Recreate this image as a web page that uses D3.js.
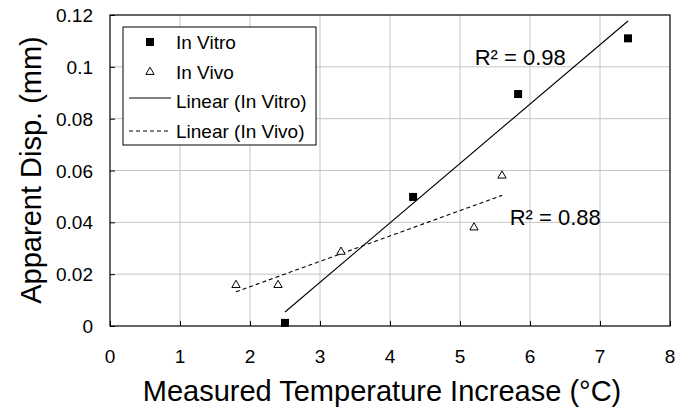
<!DOCTYPE html>
<html lang="en">
<head>
<meta charset="UTF-8"/>
<title>Apparent Disp. vs Temperature</title>
<script src="https://d3js.org/d3.v7.min.js"></script>
<style>
  body { margin: 0; background: #fff; }
  text { font-family: "Liberation Sans", Arial, sans-serif; fill: #000; }
</style>
</head>
<body>
<script>
// data
var vitroX = [2.5, 4.33, 5.83, 7.4];
var vitroY = [0.0012, 0.0498, 0.0895, 0.111];
var vivoX = [1.8, 2.4, 3.3, 5.2, 5.6];
var vivoY = [0.0158, 0.0158, 0.0286, 0.038, 0.058];

// trend line end points (as drawn)
var vitroFitX = [2.5, 7.4];
var vitroFitY = [0.0054, 0.1177];
var vivoFitX = [1.8, 5.6];
var vivoFitY = [0.0132, 0.0504];

var xTicks = [0, 1, 2, 3, 4, 5, 6, 7, 8];
var yTicks = [0, 0.02, 0.04, 0.06, 0.08, 0.1, 0.12];
var yTickLabels = ["0", "0.02", "0.04", "0.06", "0.08", "0.1", "0.12"];

var legendLabels = ["In Vitro", "In Vivo", "Linear (In Vitro)", "Linear (In Vivo)"];
var r2Labels = [
    { text: "R\u00B2 = 0.98", x: 5.21, y: 0.1007 },
    { text: "R\u00B2 = 0.88", x: 5.71, y: 0.039 }
];

var w = 678;
var h = 410;
var plotL = 110, plotT = 15, plotR = 670, plotB = 326;

var xScale = d3.scaleLinear().domain([0, 8]).range([plotL, plotR]);
var yScale = d3.scaleLinear().domain([0, 0.12]).range([plotB, plotT]);

var svg = d3.select("body").append("svg")
    .attr("width", w)
    .attr("height", h);

// grid
svg.append("g").selectAll("line")
    .data(xTicks.slice(1, -1))
    .enter().append("line")
    .attr("x1", function(d) { return xScale(d); })
    .attr("x2", function(d) { return xScale(d); })
    .attr("y1", plotT).attr("y2", plotB)
    .attr("stroke", "#c4c4c4").attr("stroke-width", 1);

svg.append("g").selectAll("line")
    .data(yTicks.slice(1, -1))
    .enter().append("line")
    .attr("y1", function(d) { return yScale(d); })
    .attr("y2", function(d) { return yScale(d); })
    .attr("x1", plotL).attr("x2", plotR)
    .attr("stroke", "#c4c4c4").attr("stroke-width", 1);

// axes (ticks inward, labels placed separately)
var xAxis = d3.axisBottom(xScale).tickValues(xTicks).tickSize(-5).tickFormat("");
svg.append("g")
    .attr("transform", "translate(0," + plotB + ")")
    .call(xAxis)
    .call(function(g) { g.select(".domain").remove(); })
    .selectAll("line").attr("stroke", "#000");

var yAxis = d3.axisLeft(yScale).tickValues(yTicks).tickSize(-5).tickFormat("");
svg.append("g")
    .attr("transform", "translate(" + plotL + ",0)")
    .call(yAxis)
    .call(function(g) { g.select(".domain").remove(); })
    .selectAll("line").attr("stroke", "#000");

// plot border
svg.append("rect")
    .attr("x", plotL).attr("y", plotT)
    .attr("width", plotR - plotL).attr("height", plotB - plotT)
    .attr("fill", "none").attr("stroke", "#000").attr("stroke-width", 1.2);

// tick labels
svg.append("g").selectAll("text")
    .data(xTicks)
    .enter().append("text")
    .attr("x", function(d) { return xScale(d); })
    .attr("y", plotB + 37)
    .attr("text-anchor", "middle")
    .attr("font-size", "19px")
    .text(function(d) { return d; });

svg.append("g").selectAll("text")
    .data(yTicks)
    .enter().append("text")
    .attr("x", plotL - 17)
    .attr("y", function(d) { return yScale(d) + 7; })
    .attr("text-anchor", "end")
    .attr("font-size", "19px")
    .text(function(d, i) { return yTickLabels[i]; });

// axis titles
svg.append("text")
    .attr("x", 382)
    .attr("y", 401)
    .attr("text-anchor", "middle")
    .attr("font-size", "29px")
    .text("Measured Temperature Increase (\u00B0C)");

svg.append("text")
    .attr("transform", "translate(41,170) rotate(-90)")
    .attr("text-anchor", "middle")
    .attr("font-size", "29px")
    .text("Apparent Disp. (mm)");

// trend lines
var line = d3.line()
    .x(function(d) { return xScale(d[0]); })
    .y(function(d) { return yScale(d[1]); });

svg.append("path")
    .datum(d3.zip(vitroFitX, vitroFitY))
    .attr("d", line)
    .attr("fill", "none").attr("stroke", "#000").attr("stroke-width", 1.1);

svg.append("path")
    .datum(d3.zip(vivoFitX, vivoFitY))
    .attr("d", line)
    .attr("fill", "none").attr("stroke", "#000").attr("stroke-width", 1.1)
    .attr("stroke-dasharray", "4,3");

// points
var square = d3.symbol().type(d3.symbolSquare).size(64);
var triangle = d3.symbol().type(d3.symbolTriangle).size(30);

svg.append("g").selectAll("path")
    .data(d3.zip(vitroX, vitroY))
    .enter().append("path")
    .attr("d", square)
    .attr("transform", function(d) { return "translate(" + xScale(d[0]) + "," + yScale(d[1]) + ")"; })
    .attr("fill", "#000");

svg.append("g").selectAll("path")
    .data(d3.zip(vivoX, vivoY))
    .enter().append("path")
    .attr("d", triangle)
    .attr("transform", function(d) { return "translate(" + xScale(d[0]) + "," + yScale(d[1]) + ")"; })
    .attr("fill", "#fff").attr("stroke", "#000").attr("stroke-width", 1);

// R squared labels
svg.append("g").selectAll("text")
    .data(r2Labels)
    .enter().append("text")
    .attr("x", function(d) { return xScale(d.x); })
    .attr("y", function(d) { return yScale(d.y); })
    .attr("font-size", "22px")
    .text(function(d) { return d.text; });

// legend
var legend = svg.append("g");
legend.append("rect")
    .attr("x", 123).attr("y", 27)
    .attr("width", 193).attr("height", 118)
    .attr("fill", "#fff").attr("stroke", "#000").attr("stroke-width", 1);

var rowY = [42, 72, 101, 131];

legend.selectAll("text")
    .data(legendLabels)
    .enter().append("text")
    .attr("x", 176)
    .attr("y", function(d, i) { return rowY[i] + 7; })
    .attr("font-size", "19px")
    .text(function(d) { return d; });

legend.append("path")
    .attr("d", square)
    .attr("transform", "translate(150," + rowY[0] + ")")
    .attr("fill", "#000");

legend.append("path")
    .attr("d", triangle)
    .attr("transform", "translate(150," + rowY[1] + ")")
    .attr("fill", "#fff").attr("stroke", "#000");

legend.append("line")
    .attr("x1", 129).attr("x2", 171)
    .attr("y1", rowY[2] - 3).attr("y2", rowY[2] - 3)
    .attr("stroke", "#000").attr("stroke-width", 1.1);

legend.append("line")
    .attr("x1", 129).attr("x2", 171)
    .attr("y1", rowY[3]).attr("y2", rowY[3])
    .attr("stroke", "#000").attr("stroke-width", 1.1)
    .attr("stroke-dasharray", "4,3");
</script>
</body>
</html>
